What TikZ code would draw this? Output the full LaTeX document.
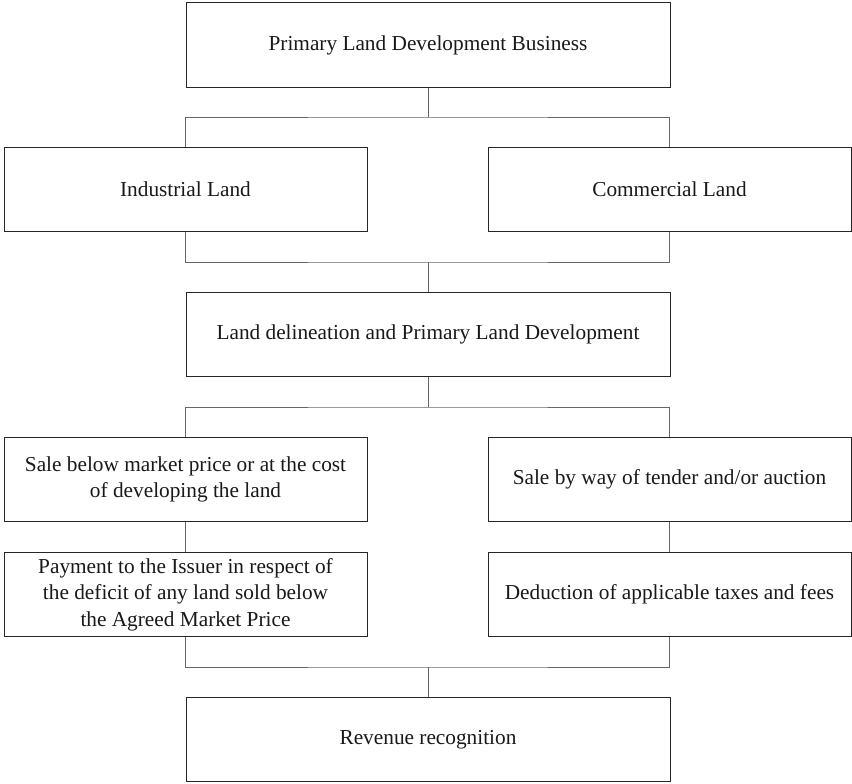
\documentclass[tikz,border=0pt]{standalone}
\usepackage{fontspec}
\setmainfont{Liberation Serif}
\begin{document}
\begin{tikzpicture}[x=1pt,y=1pt,
  box/.style={draw=black!85, line width=1pt, fill=white, align=center, inner sep=0pt,
    font=\fontsize{21.3}{26.5}\selectfont, text=black!90},
  wide/.style={box, minimum width=484pt, minimum height=84.5pt},
  side/.style={box, minimum width=363pt, minimum height=84.5pt},
  conn/.style={draw=black!60, line width=1pt}]
\useasboundingbox (0,0) rectangle (852,-784);
\node[wide] (top) at (428,-45) {\raisebox{-7pt}{Primary Land Development Business}};
\node[side] (ind) at (185.5,-189.5) {Industrial Land};
\node[side] (com) at (669.5,-189.5) {Commercial Land};
\node[wide] (land) at (428,-334.5) {Land delineation and Primary Land Development};
\node[side] (sale) at (185.5,-479.5) {Sale below market price or at the cost\\of developing the land};
\node[side] (tender) at (669.5,-479.5) {Sale by way of tender and/or auction};
\node[side] (pay) at (185.5,-594.5) {Payment to the Issuer in respect of\\the deficit of any land sold below\\the Agreed Market Price};
\node[side] (ded) at (669.5,-594.5) {Deduction of applicable taxes and fees};
\node[wide] (rev) at (428,-739.5) {Revenue recognition};
\coordinate (j1) at (428,-117);
\coordinate (j2) at (428,-262);
\coordinate (j3) at (428,-407);
\coordinate (j4) at (428,-667);
\draw[conn] (top.south) -- (j1);
\draw[conn] (ind.north) |- (j1) -| (com.north);
\draw[conn] (ind.south) |- (j2) -| (com.south);
\draw[conn] (j2) -- (land.north);
\draw[conn] (land.south) -- (j3);
\draw[conn] (sale.north) |- (j3) -| (tender.north);
\draw[conn] (sale.south) -- (pay.north);
\draw[conn] (tender.south) -- (ded.north);
\draw[conn] (pay.south) |- (j4) -| (ded.south);
\draw[conn] (j4) -- (rev.north);
\end{tikzpicture}
\end{document}
